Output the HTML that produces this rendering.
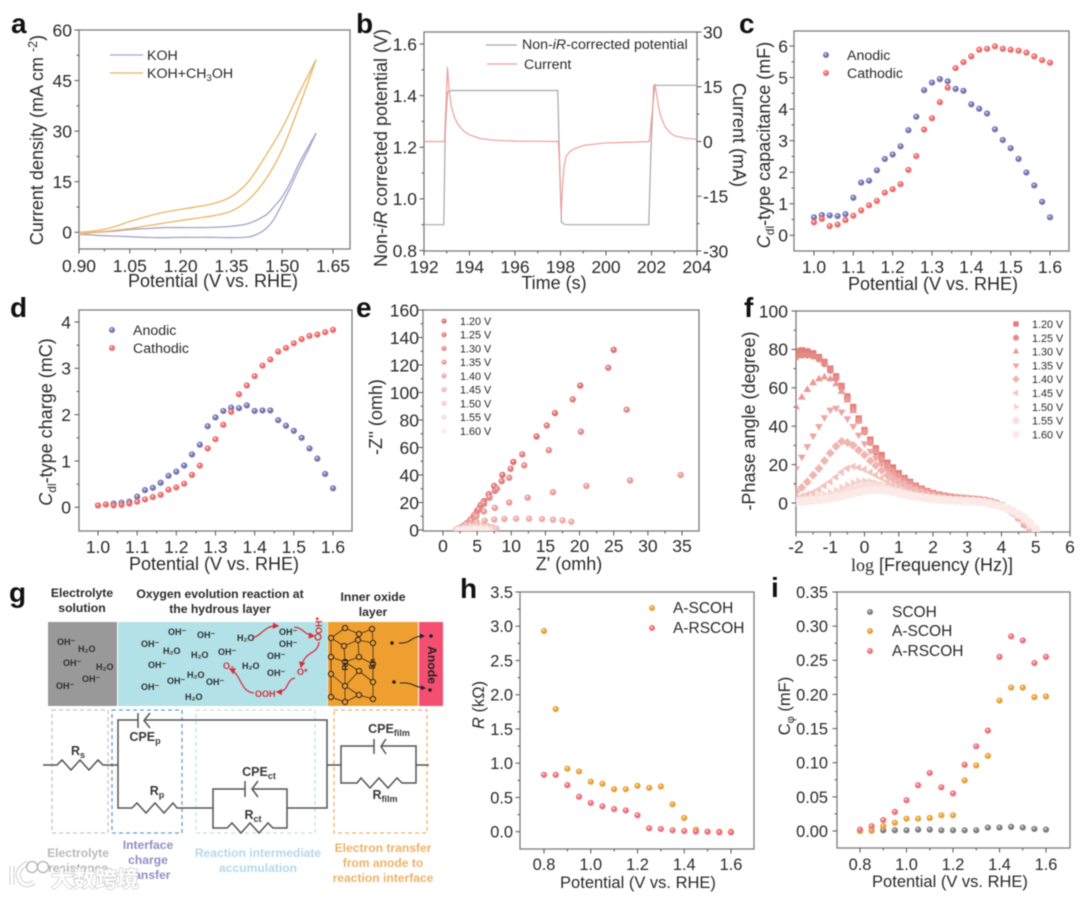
<!DOCTYPE html>
<html lang="en">
<head>
<meta charset="utf-8">
<title>Electrochemical characterization figure</title>
<style>
html,body{margin:0;padding:0;background:#fff;}
body{width:1080px;height:898px;overflow:hidden;}
svg{display:block;filter:blur(.5px);font-family:"Liberation Sans","Noto Sans CJK SC",sans-serif;}
.t{font-size:18px;fill:#2a2a2a;}
.ts{font-size:16.5px;fill:#2a2a2a;}
.l{font-size:14.2px;fill:#2a2a2a;}
.ls{font-size:15.5px;fill:#2a2a2a;}
.lt{font-size:10.8px;fill:#2a2a2a;}
.p{font-size:28px;font-weight:bold;fill:#111;}
.gt{font-size:12.2px;font-weight:bold;fill:#2b2b2b;text-anchor:middle;}
.m{font-size:9px;font-weight:bold;fill:#2f2f2f;}
.r{font-size:12.5px;font-weight:bold;fill:#3a3a3a;text-anchor:middle;}
.b{font-size:12.1px;font-weight:bold;text-anchor:middle;}
.w{fill:none;stroke:#555;stroke-width:1.5;}
.d{fill:none;stroke-width:1.3;stroke-dasharray:4 3;}
.red{fill:none;stroke:#d5303a;stroke-width:1.3;marker-end:url(#red-arrow);}
.blk{fill:none;stroke:#222;stroke-width:1;marker-end:url(#black-arrow);}
</style>
</head>
<body>
<svg id="fig" xmlns="http://www.w3.org/2000/svg" width="1080" height="898" viewBox="0 0 1080 898">
<defs id="defs">
<marker id="red-arrow" markerWidth="6" markerHeight="6" refX="4" refY="2.5" orient="auto"><path d="M0,0L5,2.5L0,5z" fill="#d5303a"/></marker>
<marker id="black-arrow" markerWidth="6" markerHeight="6" refX="4" refY="2.5" orient="auto"><path d="M0,0L5,2.5L0,5z" fill="#222"/></marker>
<clipPath id="clip-f"><rect x="796" y="311" width="274" height="221"/></clipPath>
<clipPath id="clip-e"><rect x="423" y="310" width="276" height="221"/></clipPath>
</defs>
<rect width="1080" height="898" fill="#fff"/>

<!-- panel letters -->
<text class="p" x="11" y="33">a</text>
<text class="p" x="356" y="33">b</text>
<text class="p" x="739" y="33">c</text>
<text class="p" x="10" y="317">d</text>
<text class="p" x="356" y="317">e</text>
<text class="p" x="744" y="317">f</text>
<text class="p" x="9" y="602">g</text>
<text class="p" x="460" y="598">h</text>
<text class="p" x="771" y="597">i</text>

<!-- axis titles -->
<text class="t" x="213" y="287" text-anchor="middle">Potential (V vs. RHE)</text>
<text class="t" transform="translate(43,140) rotate(-90)" text-anchor="middle">Current density (mA cm <tspan dy="-6" font-size="12.5">-2</tspan><tspan dy="6">)</tspan></text>
<text class="t" x="554" y="289" text-anchor="middle">Time (s)</text>
<text class="t" transform="translate(387,148) rotate(-90)" text-anchor="middle">Non-<tspan font-style="italic">iR</tspan> corrected potential (V)</text>
<text class="t" transform="translate(733,135) rotate(90)" text-anchor="middle">Current (mA)</text>
<text class="t" x="933" y="290" text-anchor="middle">Potential (V vs. RHE)</text>
<text class="t" transform="translate(770,145) rotate(-90)" text-anchor="middle"><tspan font-style="italic">C</tspan><tspan dy="4" font-size="12">dl</tspan><tspan dy="-4">-type capacitance (mF)</tspan></text>
<text class="t" x="214" y="570" text-anchor="middle">Potential (V vs. RHE)</text>
<text class="t" transform="translate(52,422) rotate(-90)" text-anchor="middle"><tspan font-style="italic">C</tspan><tspan dy="4" font-size="12">dl</tspan><tspan dy="-4">-type charge (mC)</tspan></text>
<text class="t" x="569" y="570" text-anchor="middle">Z' (omh)</text>
<text class="t" transform="translate(382,417) rotate(-90)" text-anchor="middle">-Z'' (omh)</text>
<text class="t" x="932" y="571" text-anchor="middle"><tspan font-family="Liberation Serif">log</tspan> [Frequency (Hz)]</text>
<text class="t" transform="translate(755,421) rotate(-90)" text-anchor="middle">-Phase angle (degree)</text>
<text class="ts" x="638" y="888" text-anchor="middle">Potential (V vs. RHE)</text>
<text class="ts" transform="translate(484,705) rotate(-90)" text-anchor="middle"><tspan font-style="italic">R</tspan> (kΩ)</text>
<text class="ts" x="950" y="887" text-anchor="middle">Potential (V vs. RHE)</text>
<text class="ts" transform="translate(790,706) rotate(-90)" text-anchor="middle">C<tspan dy="4" font-size="11">φ</tspan><tspan dy="-4"> (mF)</tspan></text>

<!-- legends -->
<g>
<line x1="110" x2="143" y1="55" y2="55" stroke="#a3a3cc" stroke-width="1.2"/>
<text class="l" x="147" y="60">KOH</text>
<line x1="110" x2="143" y1="73" y2="73" stroke="#eab566" stroke-width="1.2"/>
<text class="l" x="147" y="78">KOH+CH<tspan dy="3" font-size="9.5">3</tspan><tspan dy="-3">OH</tspan></text>
</g>
<g>
<line x1="486" x2="517" y1="45" y2="45" stroke="#a8a8a8" stroke-width="1.2"/>
<text class="l" x="522" y="49">Non-<tspan font-style="italic">iR</tspan>-corrected potential</text>
<line x1="487" x2="517" y1="64" y2="64" stroke="#ef9f9b" stroke-width="1.2"/>
<text class="l" x="524" y="69">Current</text>
</g>
<g>
<text class="l" x="847" y="60">Anodic</text>
<text class="l" x="847" y="78">Cathodic</text>
</g>
<g>
<text class="l" x="133" y="335">Anodic</text>
<text class="l" x="133" y="353">Cathodic</text>
</g>
<g>
<text class="ls" x="673" y="613">A-SCOH</text>
<text class="ls" x="673" y="633">A-RSCOH</text>
</g>
<g>
<text class="ls" x="892" y="617">SCOH</text>
<text class="ls" x="892" y="636">A-SCOH</text>
<text class="ls" x="892" y="656">A-RSCOH</text>
</g>

<!-- panel g schematic -->
<g>
<text class="gt" x="82" y="597">Electrolyte</text><text class="gt" x="82" y="612">solution</text>
<text class="gt" x="220" y="598">Oxygen evolution reaction at</text><text class="gt" x="220" y="613">the hydrous layer</text>
<text class="gt" x="373" y="601">Inner oxide</text><text class="gt" x="373" y="616">layer</text>
<rect x="48" y="622" width="69" height="84" fill="#999999"/>
<rect x="118" y="622" width="209.500" height="84" fill="#b2e2e8"/>
<rect x="328" y="622" width="90" height="84" fill="#ef9f30"/>
<rect x="419" y="622" width="24" height="84" fill="#f44f70"/>
<text x="431" y="665" font-size="12.2" font-weight="bold" fill="#222" text-anchor="middle" dominant-baseline="middle" transform="rotate(90 431 665)">Anode</text>
<g>
<text class="m" x="57" y="645">OH⁻</text><text class="m" x="78" y="652">H₂O</text><text class="m" x="63" y="666">OH⁻</text><text class="m" x="96" y="670">H₂O</text><text class="m" x="82" y="682">OH⁻</text><text class="m" x="56" y="689">OH⁻</text>
<text class="m" x="141" y="647">OH⁻</text><text class="m" x="168" y="635">OH⁻</text><text class="m" x="197" y="638">OH⁻</text><text class="m" x="163" y="654">H₂O</text><text class="m" x="191" y="658">H₂O</text><text class="m" x="218" y="655">OH⁻</text><text class="m" x="148" y="668">OH⁻</text><text class="m" x="187" y="678">H₂O</text><text class="m" x="167" y="684">OH⁻</text><text class="m" x="206" y="685">OH⁻</text><text class="m" x="141" y="690">OH⁻</text><text class="m" x="185" y="700">H₂O</text>
<text class="m" x="237" y="641">H₂O</text><text class="m" x="279" y="635">OH⁻</text><text class="m" x="279" y="647">OH⁻</text><text class="m" x="267" y="659">OH⁻</text><text class="m" x="242" y="669">H₂O</text><text class="m" x="267" y="676">OH⁻</text>
<text class="m" x="255" y="697" style="fill:#d5303a">OOH</text><text class="m" x="223" y="669" style="fill:#d5303a">O₂</text><text class="m" x="297" y="675" style="fill:#d5303a">O*</text>
<text class="m" transform="translate(322,634) rotate(-90)" style="fill:#d5303a">OH*</text>
</g>
<g>
<path class="red" d="M252,638C262,636 264,625 278,626"/>
<path class="red" d="M294,627C304,628 304,635 314,636"/>
<path class="red" d="M319,642C318,655 305,650 301,667"/>
<path class="red" d="M295,678C285,680 290,692 277,692"/>
<path class="red" d="M254,693C240,692 242,675 230,669"/>
<circle cx="318" cy="637" r="3" fill="none" stroke="#d5303a" stroke-width="1.3"/>
</g>
<g id="lattice"></g>
<text x="345" y="668" font-size="8.500" font-weight="bold" fill="#222" text-anchor="middle" transform="rotate(-90 345 665)">Ru</text>
<text x="372" y="667" font-size="8.500" font-weight="bold" fill="#222" text-anchor="middle" transform="rotate(-90 372 664)">Sn</text>
<g>
<circle cx="392" cy="643" r="1.800" fill="#222"/><circle cx="394" cy="682" r="1.800" fill="#222"/>
<circle cx="431" cy="636" r="1.800" fill="#222"/><circle cx="430" cy="690" r="1.800" fill="#222"/>
<path class="blk" d="M399,643C412,644 410,636 424,636"/>
<path class="blk" d="M400,683C414,682 412,687 425,688"/>
</g>
<g>
<rect class="d" x="52" y="710" width="56" height="123" stroke="#c6c6c6"/>
<rect class="d" x="112" y="710" width="70" height="123" stroke="#6b9dc9"/>
<rect class="d" x="196" y="710" width="119" height="123" stroke="#c6deef"/>
<rect class="d" x="334" y="710" width="93" height="123" stroke="#ebb56c"/>
<path class="w" d="M43,765H57L62,760L71,770L80,760L89,770L98,760L103,765H118"/>
<path class="w" d="M138,720H118V808H132L137,803L146,813L155,803L164,813L173,803L177,808H213"/>
<path class="w" d="M138,713V728M150,713L144,720.500L150,728M145,720H327V808H287"/>
<path class="w" d="M245,789H213V828H227L232,823L241,833L250,823L259,833L268,823L273,828H287V789H253M245,781V797M258,781L252,789L258,797"/>
<path class="w" d="M327,765H341V746H374M374,739V754M386,739L381,746.500L386,754M381,746H416V783H402L397,778L388,788L379,778L370,788L361,778L357,783H341V765M416,765H429"/>
<text class="r" x="78" y="755">R<tspan dy="3" font-size="9">s</tspan></text>
<text class="r" x="145" y="741">CPE<tspan dy="3" font-size="9">p</tspan></text>
<text class="r" x="157" y="795">R<tspan dy="3" font-size="9">p</tspan></text>
<text class="r" x="259" y="776">CPE<tspan dy="3" font-size="9">ct</tspan></text>
<text class="r" x="253" y="819">R<tspan dy="3" font-size="9">ct</tspan></text>
<text class="r" x="389" y="733">CPE<tspan dy="3" font-size="9">film</tspan></text>
<text class="r" x="385" y="799">R<tspan dy="3" font-size="9">film</tspan></text>
</g>
<g>
<g fill="#b9b9b9"><text class="b" x="78" y="857">Electrolyte</text><text class="b" x="78" y="872">resistance</text></g>
<g fill="#8f8fc6"><text class="b" x="148" y="849">Interface</text><text class="b" x="148" y="864">charge</text><text class="b" x="148" y="879">transfer</text></g>
<g fill="#b5d7ef"><text class="b" x="258" y="857">Reaction intermediate</text><text class="b" x="258" y="872">accumulation</text></g>
<g fill="#efb266"><text class="b" x="383" y="852">Electron transfer</text><text class="b" x="383" y="867">from anode to</text><text class="b" x="383" y="882">reaction interface</text></g>
</g>
</g>
<g>
<path d="M12,866V885M28,863C18,868 17,874 19,878C21,885 28,887 34,882" fill="none" stroke="#cfcfcf" stroke-width="5"/>
<path d="M12,866V885M28,863C18,868 17,874 19,878C21,885 28,887 34,882" fill="none" stroke="#fff" stroke-width="3"/>
<circle cx="32" cy="867" r="5.500" fill="none" stroke="#b5b5b5" stroke-width="1.300"/><circle cx="43" cy="867" r="5.500" fill="none" stroke="#b5b5b5" stroke-width="1.300"/>
<text x="51" y="887" font-size="22" font-family="Noto Sans CJK SC" font-weight="bold" fill="#fff" stroke="#cccccc" stroke-width="1.400" style="paint-order:stroke">大数跨境</text>
</g>
<g id="charts"></g>
</svg>
<script>
// ---------- Panel a data ----------
const aXTicks=[0.90,1.05,1.20,1.35,1.50,1.65];
const aXLabels=['0.90','1.05','1.20','1.35','1.50','1.65'];
const aYTicks=[0,15,30,45,60];
const aYLabels=['0','15','30','45','60'];
const aKohForwardV=[0.90,0.95,1.00,1.05,1.10,1.15,1.20,1.25,1.30,1.35,1.40,1.425,1.45,1.475,1.50,1.525,1.55,1.575,1.60];
const aKohForwardJ=[-0.6,-0.9,-1.1,-1.3,-1.5,-1.6,-1.5,-1.5,-1.5,-1.6,-1.4,-0.6,0.9,3.8,8.5,13.5,19,24,29.4];
const aKohReverseV=[0.90,0.95,1.00,1.05,1.10,1.15,1.20,1.25,1.30,1.35,1.40,1.45,1.475,1.50,1.525,1.55,1.575,1.60];
const aKohReverseJ=[-0.5,0,0.3,0.8,1.1,1.4,1.4,1.4,1.5,1.8,2.6,5,7.5,10.5,15,20.5,25,29.4];
const aMethV=[0.90,0.95,1.00,1.05,1.10,1.15,1.20,1.25,1.30,1.35,1.40,1.45,1.50,1.55,1.60];
const aMethUpperJ=[0,0.5,1.5,3.2,4.7,5.9,6.8,7.6,8.6,10.6,15,22.5,30.9,41.3,51.2];
const aMethLowerJ=[-0.6,0,0.5,1.1,1.9,2.7,3.5,4.2,5,6.3,9.6,15.5,24.5,37.3,51.2];

// ---------- Panel b data ----------
const bXTicks=[192,194,196,198,200,202,204];
const bXLabels=['192','194','196','198','200','202','204'];
const bYTicks=[0.8,1.0,1.2,1.4,1.6];
const bYLabels=['0.8','1.0','1.2','1.4','1.6'];
const bRTicks=[-30,-15,0,15,30];
const bRLabels=['-30','-15','0','15','30'];
const bPotT=[192,192.87,192.93,193.03,193.2,197.88,197.94,198.04,198.2,201.88,201.98,202.1,204];
const bPotV=[0.90,0.90,1.25,1.413,1.42,1.42,1.2,0.91,0.90,0.90,1.2,1.44,1.44];
const bCurT=[192,192.9,192.98,193.03,193.1,193.2,193.35,193.5,193.75,194,194.5,195,196,197,197.9,197.95,198.03,198.08,198.15,198.25,198.4,198.6,199,199.5,200,201,201.9,202,202.15,202.3,202.4,202.6,202.8,203,203.5,204];
const bCurI=[0,0,12,20.3,14.5,9.5,6.5,4.6,2.8,1.8,0.8,0.4,0.1,0.05,0,-5,-20,-13,-7,-4,-2.8,-2,-1.1,-0.7,-0.4,-0.2,0,6,15.7,10,7,4,2.5,1.6,0.9,0.6];

// ---------- Panel c data ----------
const potential31=[1.00,1.02,1.04,1.06,1.08,1.10,1.12,1.14,1.16,1.18,1.20,1.22,1.24,1.26,1.28,1.30,1.32,1.34,1.36,1.38,1.40,1.42,1.44,1.46,1.48,1.50,1.52,1.54,1.56,1.58,1.60];
const cXTicks=[1.0,1.1,1.2,1.3,1.4,1.5,1.6];
const cXLabels=['1.0','1.1','1.2','1.3','1.4','1.5','1.6'];
const cYTicks=[0,1,2,3,4,5,6];
const cYLabels=['0','1','2','3','4','5','6'];
const cAnodic=[0.57,0.64,0.63,0.61,0.67,1.19,1.67,1.73,2.06,2.42,2.56,2.82,3.33,3.76,4.60,4.84,4.95,4.88,4.64,4.58,4.15,4.01,3.86,3.36,3.02,2.76,2.42,1.99,1.58,1.06,0.57];
const cCathodic=[0.41,0.52,0.29,0.34,0.48,0.62,0.79,0.95,1.09,1.35,1.46,1.62,2.07,2.51,3.35,3.71,4.22,4.68,5.30,5.49,5.67,5.88,5.91,5.99,5.91,5.88,5.85,5.79,5.67,5.55,5.47];

// ---------- Panel d data ----------
const dYTicks=[0,1,2,3,4];
const dYLabels=['0','1','2','3','4'];
const dAnodic=[0.04,0.06,0.08,0.10,0.12,0.23,0.37,0.42,0.53,0.68,0.77,0.90,1.14,1.35,1.75,1.94,2.08,2.15,2.14,2.20,2.08,2.09,2.09,1.88,1.76,1.65,1.50,1.27,1.05,0.72,0.41];
const dCathodic=[0.04,0.06,0.04,0.05,0.08,0.12,0.17,0.22,0.27,0.38,0.43,0.51,0.70,0.90,1.27,1.47,1.78,2.06,2.44,2.63,2.83,3.06,3.19,3.36,3.44,3.54,3.63,3.70,3.73,3.78,3.83];

// ---------- Panel e data ----------
const eXTicks=[0,5,10,15,20,25,30,35];
const eXLabels=['0','5','10','15','20','25','30','35'];
const eYTicks=[0,20,40,60,80,100,120,140,160];
const eYLabels=['0','20','40','60','80','100','120','140','160'];
const voltageLabels=['1.20 V','1.25 V','1.30 V','1.35 V','1.40 V','1.45 V','1.50 V','1.55 V','1.60 V'];
const eZReal=[
 [25,20.1,16.4,13.7,10.3,8.7,7.5,6.7,6,5.5,5,4.5,4,3.5,3,2.5,2],
 [24.2,19,15.2,11.6,9.9,8.6,7.6,6.8,6,5.4,4.9,4.4,3.9,3.3,2.7,2.1],
 [26.9,20.2,15.5,11.9,9.7,7.9,6.8,5.9,5.2,4.6,4,3.4,2.8,2.1],
 [34.8,27.4,21,16.1,12.4,9.7,7.6,6,4.9,4.1,3.4,2.7,2],
 [18.8,17.5,16.1,14.5,12.6,10.7,9,7.5,6.1,4.9,3.9,3,2.2],
 [7.8,7.2,6.5,5.7,4.9,4,3.2,2.5,1.9],
 [7.3,6.7,5.9,5,4.1,3.3,2.6,1.9],
 [7,6.2,5.3,4.4,3.6,2.8,2.1],
 [6.5,5.6,4.7,3.8,3,2.2]
];
const eZImag=[
 [131,105,85,68,49.5,40,32,26,21,18,14,10,7,5,3,1.5,0.5],
 [118,95,76,55,44.5,35.5,28.5,23.5,19,15,12,9,6,3.5,1.5,0.5],
 [87.5,71.5,58,47,38,30,24,19.5,15,11,7.5,4.5,2.3,0.6],
 [40,36,32,27.5,23.5,20,16,13.5,10,7,4.5,2.2,0.5],
 [6,7,7.5,8,8.2,8.3,8,7.6,6.8,5.8,4.2,2.6,1],
 [1,2,2.8,3.3,3.5,3.2,2.5,1.3,0.4],
 [0.5,1.2,1.8,2.2,2.2,1.7,1,0.3],
 [0.3,1,1.4,1.4,1.1,0.7,0.2],
 [0.3,0.7,0.9,0.8,0.5,0.2]
];

// ---------- Panel f data ----------
const fXTicks=[-2,-1,0,1,2,3,4,5,6];
const fXLabels=['-2','-1','0','1','2','3','4','5','6'];
const fYTicks=[0,20,40,60,80,100];
const fYLabels=['0','20','40','60','80','100'];
const fLogFreq=[-2,-1.83,-1.67,-1.5,-1.33,-1.17,-1,-0.83,-0.67,-0.5,-0.33,-0.17,0,0.17,0.33,0.5,0.67,0.83,1,1.17,1.33,1.5,1.67,1.83,2,2.17,2.33,2.5,2.67,2.83,3,3.17,3.33,3.5,3.67,3.83,4,4.17,4.33,4.5,4.67,4.83,5];
const fPhase120=[79,79.5,79,78,76,73.5,70,66,61,55.5,50,44,38,33,28.5,25,21,18.5,15.5,13,11,9,7.5,6.2,5.2,4.4,3.8,3.3,2.9,2.6,2.4,2.1,1.9,1.5,0.9,0,-1.2,-2.8,-4.8,-7.6,-11,-16,-22];
const fPhase125=[76,77,77,76.5,75,72.5,69,65,60,54.5,49,43,37,31.5,26.5,22.5,19,16.5,14,12,10,8.4,7,5.8,4.9,4.2,3.6,3.2,2.8,2.5,2.3,2,1.8,1.4,0.8,-0.1,-1.3,-2.9,-4.9,-7.7,-11.1,-16,-22];
const fPhase130=[50,55,59,62.5,64.5,65.5,64.5,62,58,53.5,48,42.5,37,31.5,27,23,19.5,16.5,14,12,10,8.4,7,5.8,4.8,4.1,3.5,3.1,2.8,2.5,2.2,2,1.7,1.3,0.7,-0.2,-1.4,-3,-5,-7.8,-11.2,-16,-22];
const fPhase135=[18,24,29.5,35,40,44.5,48.5,49.5,47.5,44,40,35.5,31,27,23.5,20,17,14.5,12.2,10.5,8.8,7.4,6.2,5.2,4.4,3.7,3.2,2.8,2.5,2.3,2,1.8,1.5,1.1,0.5,-0.4,-1.6,-3.2,-5.2,-8,-11.5,-16.5,-23];
const fPhase140=[6,8,11,14.5,18,22,26,29.5,32,31.5,30,27.5,25,22,19.5,17,14.5,12.5,10.7,9.2,7.8,6.6,5.5,4.7,4,3.4,2.9,2.5,2.3,2.1,1.9,1.7,1.4,1,0.4,-0.5,-1.6,-3.2,-5,-7.5,-10.5,-14.5,-20];
const fPhase145=[3,3.5,4.5,5.5,7,9,11,13.5,16,18,19,18.5,17.5,16,14.5,13,11.2,9.8,8.5,7.2,6.2,5.3,4.5,3.8,3.3,2.8,2.4,2.1,1.9,1.8,1.6,1.4,1.1,0.7,0.1,-0.8,-1.8,-3.2,-4.8,-7,-9.6,-13,-18];
const fPhase150=[2,2.2,2.5,3,3.6,4.4,5.4,6.6,8,9.3,10.5,11.3,11.5,11.2,10.4,9.5,8.5,7.5,6.5,5.7,4.9,4.2,3.6,3.1,2.7,2.3,2,1.8,1.6,1.5,1.3,1.2,1,0.6,0,-0.8,-1.8,-3,-4.6,-6.6,-9,-12,-16];
const fPhase155=[1,1.2,1.5,1.8,2.2,2.8,3.5,4.3,5.2,6.2,7.2,8.1,8.8,9,8.7,8.1,7.3,6.5,5.7,5,4.3,3.7,3.2,2.8,2.4,2,1.8,1.6,1.4,1.3,1.2,1,0.8,0.5,-0.1,-0.9,-1.8,-3,-4.4,-6.2,-8.5,-11.2,-15];
const fPhase160=[0.5,0.7,0.9,1.2,1.5,1.9,2.4,3,3.6,4.3,5,5.7,6.3,6.8,7,6.8,6.3,5.7,5,4.4,3.8,3.3,2.9,2.5,2.1,1.8,1.6,1.4,1.2,1.1,1,0.9,0.7,0.4,-0.2,-1,-1.9,-3,-4.2,-5.8,-7.8,-10.4,-13.5];

// ---------- Panels h and i data ----------
const potential17=[0.80,0.85,0.90,0.95,1.00,1.05,1.10,1.15,1.20,1.25,1.30,1.35,1.40,1.45,1.50,1.55,1.60];
const hiXTicks=[0.8,1.0,1.2,1.4,1.6];
const hiXLabels=['0.8','1.0','1.2','1.4','1.6'];
const hYTicks=[0,0.5,1,1.5,2,2.5,3,3.5];
const hYLabels=['0.0','0.5','1.0','1.5','2.0','2.5','3.0','3.5'];
const hSCOH=[2.93,1.79,0.92,0.88,0.73,0.70,0.62,0.62,0.67,0.64,0.66,0.40,0.20,0.03,0,0,0];
const hRSCOH=[0.83,0.83,0.68,0.51,0.42,0.37,0.33,0.31,0.24,0.05,0.04,0.02,0.01,0,0,-0.01,-0.01];
const iYTicks=[0,0.05,0.10,0.15,0.20,0.25,0.30,0.35];
const iYLabels=['0.00','0.05','0.10','0.15','0.20','0.25','0.30','0.35'];
const iPristine=[0.001,0.0005,0.001,0.001,0.001,0.002,0.002,0.001,0.001,0.001,0.001,0.005,0.005,0.006,0.005,0.003,0.002];
const iSCOH=[0,0.001,0.007,0.012,0.018,0.018,0.019,0.023,0.023,0.074,0.096,0.110,0.191,0.210,0.210,0.196,0.197];
const iRSCOH=[0.002,0.007,0.016,0.028,0.045,0.067,0.085,0.064,0.055,0.097,0.124,0.147,0.255,0.285,0.279,0.246,0.255];

// ---------- Schematic lattice ----------
const latticeNodes=[[345,628],[372,629],[359,634],[331,638],[358,640],[344,646],[373,643],[331,657],[359,657],[345,662],[373,664],[331,674],[359,671],[373,682],[345,686],[331,697],[359,695],[373,699],[345,702]];
const latticeEdges=[[3,0],[0,2],[2,1],[1,6],[6,4],[4,5],[5,3],[3,7],[5,9],[4,8],[6,10],[7,9],[8,9],[8,10],[9,12],[7,11],[9,14],[10,13],[12,13],[11,14],[12,14],[14,16],[13,17],[11,15],[15,18],[18,16],[16,17],[14,18]];

// ---------- Helpers ----------
const NS='http://www.w3.org/2000/svg';
const root=document.getElementById('charts');
const defs=document.getElementById('defs');
function add(parent,tag,attrs,text){
  const n=document.createElementNS(NS,tag);
  for(const k in attrs){n.setAttribute(k,attrs[k]);}
  if(text!==undefined){n.textContent=text;}
  parent.appendChild(n);
  return n;
}
function linear(d0,d1,r0,r1){return v=>r0+(v-d0)*(r1-r0)/(d1-d0);}
let gradCount=0;
function ball(color){
  const id='ball-'+(gradCount++);
  const g=add(defs,'radialGradient',{id:id,cx:'0.5',cy:'0.5',r:'0.6',fx:'0.38',fy:'0.32'});
  add(g,'stop',{offset:'0','stop-color':'#fff','stop-opacity':'0.7'});
  add(g,'stop',{offset:'0.4','stop-color':color});
  add(g,'stop',{offset:'1','stop-color':color});
  return 'url(#'+id+')';
}
function newGroup(name){
  const g=add(root,'g',{});
  
  
  return g;
}
function drawAxes(name,box,x,y,cfg){
  const g=newGroup(name+'-axes');
  const fr=add(g,'rect',{x:box.x0,y:box.y0,width:box.x1-box.x0,height:box.y1-box.y0,fill:'none',stroke:'#7c7c7c','stroke-width':1.3});
  
  
  const tickStyle={stroke:'#555','stroke-width':1};
  cfg.xTicks.forEach((v,i)=>{
    const px=x(v);
    const t=add(g,'line',Object.assign({x1:px,x2:px,y1:box.y1,y2:box.y1+4.5},tickStyle));
    
    
    const lb=add(g,'text',{x:px,y:cfg.xBase,'text-anchor':'middle','font-size':cfg.size,fill:'#2a2a2a'},cfg.xLabels[i]);
    
    
    if(i<cfg.xTicks.length-1){
      const mx=(px+x(cfg.xTicks[i+1]))/2;
      add(g,'line',Object.assign({x1:mx,x2:mx,y1:box.y1,y2:box.y1+2.5},tickStyle));
    }
  });
  cfg.yTicks.forEach((v,i)=>{
    const py=y(v);
    const t=add(g,'line',Object.assign({x1:box.x0-4.5,x2:box.x0,y1:py,y2:py},tickStyle));
    
    
    const lb=add(g,'text',{x:cfg.yRight,y:py+cfg.size*0.36,'text-anchor':'end','font-size':cfg.size,fill:'#2a2a2a'},cfg.yLabels[i]);
    
    
    if(i<cfg.yTicks.length-1){
      const my=(py+y(cfg.yTicks[i+1]))/2;
      add(g,'line',Object.assign({x1:box.x0-2.5,x2:box.x0,y1:my,y2:my},tickStyle));
    }
  });
  return g;
}
function smoothPath(px,py){
  let d='M'+px[0]+','+py[0];
  for(let i=0;i<px.length-1;i++){
    const x0=px[Math.max(i-1,0)],y0=py[Math.max(i-1,0)];
    const x1=px[i],y1=py[i],x2=px[i+1],y2=py[i+1];
    const x3=px[Math.min(i+2,px.length-1)],y3=py[Math.min(i+2,py.length-1)];
    d+='C'+(x1+(x2-x0)/6)+','+(y1+(y2-y0)/6)+' '+(x2-(x3-x1)/6)+','+(y2-(y3-y1)/6)+' '+x2+','+y2;
  }
  return d;
}
function drawCurve(g,name,xs,ys,x,y,color){
  const p=add(g,'path',{d:smoothPath(xs.map(x),ys.map(y)),fill:'none',stroke:color,'stroke-width':1.3,'stroke-linejoin':'round'});
  
  
}
function drawLine(g,name,xs,ys,x,y,color){
  const pts=xs.map((v,i)=>x(v)+','+y(ys[i])).join(' ');
  const p=add(g,'polyline',{points:pts,fill:'none',stroke:color,'stroke-width':1.2,'stroke-linejoin':'round'});
  
  
}
function drawDots(g,name,xs,ys,x,y,fill,r){
  xs.forEach((v,i)=>{
    const c=add(g,'circle',{cx:x(v),cy:y(ys[i]),r:r,fill:fill});
    
    
  });
}
function legendDot(g,name,cx,cy,fill,r){
  const c=add(g,'circle',{cx:cx,cy:cy,r:r,fill:fill});
  
  
}

const blueBall=ball('#7474b4');
const redBall=ball('#ef6a6a');
const orangeBall=ball('#e9a035');
const pinkBall=ball('#ee6f7a');
const grayBall=ball('#7d7d7d');
const seriesColors=['#dc7270','#e07e7b','#e48b88','#e99b97','#edaaa6','#f1bab5','#f5ccc7','#f8dcd8','#fbeae7'];
const seriesBalls=seriesColors.map(ball);

// ---------- Panel a ----------
(function(){
  const box={x0:79,x1:350,y0:30,y1:249};
  const x=linear(0.90,1.65,79,333),y=linear(0,60,232.3,30);
  drawAxes('a',box,x,y,{xTicks:aXTicks,xLabels:aXLabels,yTicks:aYTicks,yLabels:aYLabels,size:17.5,xBase:272,yRight:72});
  const g=newGroup('a-series');
  drawCurve(g,'koh-forward-curve',aKohForwardV,aKohForwardJ,x,y,'#a3a3cc');
  drawCurve(g,'koh-reverse-curve',aKohReverseV,aKohReverseJ,x,y,'#a3a3cc');
  drawCurve(g,'koh-methanol-upper-curve',aMethV,aMethUpperJ,x,y,'#eab566');
  drawCurve(g,'koh-methanol-lower-curve',aMethV,aMethLowerJ,x,y,'#eab566');
})();

// ---------- Panel b ----------
(function(){
  const box={x0:424,x1:697,y0:32,y1:251};
  const x=linear(192,204,424,697),y=linear(0.8,1.6,250.5,44),yr=linear(-30,30,251,32);
  const g0=drawAxes('b',box,x,y,{xTicks:bXTicks,xLabels:bXLabels,yTicks:bYTicks,yLabels:bYLabels,size:17.5,xBase:273,yRight:417});
  bRTicks.forEach((v,i)=>{
    const py=yr(v);
    const t=add(g0,'line',{x1:697,x2:701.5,y1:py,y2:py,stroke:'#555','stroke-width':1});
    
    
    const lb=add(g0,'text',{x:703,y:py+6.3,'font-size':17.5,fill:'#2a2a2a'},bRLabels[i]);
    
    
    if(i<bRTicks.length-1){
      const my=(py+yr(bRTicks[i+1]))/2;
      add(g0,'line',{x1:697,x2:699.5,y1:my,y2:my,stroke:'#555','stroke-width':1});
    }
  });
  const g=newGroup('b-series');
  drawLine(g,'potential-line',bPotT,bPotV,x,y,'#a8a8a8');
  drawLine(g,'current-line',bCurT,bCurI,x,yr,'#ef9f9b');
})();

// ---------- Panel c ----------
(function(){
  const box={x0:794,x1:1069,y0:31,y1:251};
  const x=linear(1.0,1.6,814,1050),y=linear(0,6,235.3,46);
  drawAxes('c',box,x,y,{xTicks:cXTicks,xLabels:cXLabels,yTicks:cYTicks,yLabels:cYLabels,size:17.5,xBase:273,yRight:788});
  const g=newGroup('c-series');
  drawDots(g,'c-anodic-point',potential31,cAnodic,x,y,blueBall,3.1);
  drawDots(g,'c-cathodic-point',potential31,cCathodic,x,y,redBall,3.1);
  legendDot(g,'c-legend-anodic-marker',826,55,blueBall,3);
  legendDot(g,'c-legend-cathodic-marker',826,73,redBall,3);
})();

// ---------- Panel d ----------
(function(){
  const box={x0:79,x1:352,y0:310,y1:531};
  const x=linear(1.0,1.6,98,333),y=linear(0,4,507.3,322);
  drawAxes('d',box,x,y,{xTicks:cXTicks,xLabels:cXLabels,yTicks:dYTicks,yLabels:dYLabels,size:17.5,xBase:553,yRight:71});
  const g=newGroup('d-series');
  drawDots(g,'d-anodic-point',potential31,dAnodic,x,y,blueBall,3.1);
  drawDots(g,'d-cathodic-point',potential31,dCathodic,x,y,redBall,3.1);
  legendDot(g,'d-legend-anodic-marker',112,330,blueBall,3);
  legendDot(g,'d-legend-cathodic-marker',112,348,redBall,3);
})();

// ---------- Panel e ----------
(function(){
  const box={x0:423,x1:699,y0:310,y1:531};
  const x=linear(0,35,443,682),y=linear(0,160,530,310);
  drawAxes('e',box,x,y,{xTicks:eXTicks,xLabels:eXLabels,yTicks:eYTicks,yLabels:eYLabels,size:17.5,xBase:552,yRight:419});
  const g=newGroup('e-series');
  g.setAttribute('clip-path','url(#clip-e)');
  for(let s=0;s<eZReal.length;s++){
    drawDots(g,'e-point-'+voltageLabels[s].replace(' V','v'),eZReal[s],eZImag[s],x,y,seriesBalls[s],3.2);
  }
  const lg=newGroup('e-legend');
  voltageLabels.forEach((lab,i)=>{
    const py=321+i*13.72;
    legendDot(lg,'e-legend-marker',444,py,seriesBalls[i],2.6);
    const t=add(lg,'text',{x:460,y:py+4,class:'lt'},lab);
    
    
  });
})();

// ---------- Panel f ----------
function shapePoints(kind,cx,cy,r){
  const poly=(n,rot)=>{
    const out=[];
    for(let k=0;k<n;k++){
      const a=rot+k*2*Math.PI/n;
      out.push((cx+r*Math.cos(a)).toFixed(2)+','+(cy+r*Math.sin(a)).toFixed(2));
    }
    return out.join(' ');
  };
  if(kind==='square'){return poly(4,Math.PI/4);}
  if(kind==='up'){return poly(3,-Math.PI/2);}
  if(kind==='down'){return poly(3,Math.PI/2);}
  if(kind==='diamond'){return poly(4,0);}
  if(kind==='left'){return poly(3,Math.PI);}
  if(kind==='right'){return poly(3,0);}
  if(kind==='hex'){return poly(6,0);}
  return poly(8,0);
}
const fShapes=['square','circle','up','down','diamond','left','right','hex','star'];
(function(){
  const box={x0:796,x1:1070,y0:311,y1:532};
  const x=linear(-2,6,796,1070),y=linear(0,100,503,311);
  drawAxes('f',box,x,y,{xTicks:fXTicks,xLabels:fXLabels,yTicks:fYTicks,yLabels:fYLabels,size:17.5,xBase:553,yRight:788});
  const series=[fPhase120,fPhase125,fPhase130,fPhase135,fPhase140,fPhase145,fPhase150,fPhase155,fPhase160];
  const g=newGroup('f-series');
  g.setAttribute('clip-path','url(#clip-f)');
  const colors=['#e27f7c','#e68a86','#ea9a95','#eda7a3','#f0b5b0','#f3c3be','#f6d1cc','#f9dfdb','#fbeae7'];
  series.forEach((vals,s)=>{
    vals.forEach((v,i)=>{
      const cx=x(fLogFreq[i]),cy=y(v);
      let m;
      if(fShapes[s]==='circle'){m=add(g,'circle',{cx:cx,cy:cy,r:3.5,fill:colors[s]});}
      else{m=add(g,'polygon',{points:shapePoints(fShapes[s],cx,cy,4.5),fill:colors[s]});}
      
      
    });
  });
  const lg=newGroup('f-legend');
  voltageLabels.forEach((lab,i)=>{
    const py=324+i*13.8;
    let m;
    if(fShapes[i]==='circle'){m=add(lg,'circle',{cx:1016,cy:py,r:3,fill:colors[i]});}
    else{m=add(lg,'polygon',{points:shapePoints(fShapes[i],1016,py,3.8),fill:colors[i]});}
    
    
    const t=add(lg,'text',{x:1032,y:py+4,class:'lt'},lab);
    
    
  });
})();

// ---------- Panel h ----------
(function(){
  const box={x0:520,x1:754,y0:592,y1:849};
  const x=linear(0.8,1.6,544,731),y=linear(0,3.5,831.7,592);
  drawAxes('h',box,x,y,{xTicks:hiXTicks,xLabels:hiXLabels,yTicks:hYTicks,yLabels:hYLabels,size:16.4,xBase:870,yRight:513});
  const g=newGroup('h-series');
  drawDots(g,'h-a-scoh-point',potential17,hSCOH,x,y,orangeBall,3.1);
  drawDots(g,'h-a-rscoh-point',potential17,hRSCOH,x,y,pinkBall,3.1);
  legendDot(g,'h-legend-a-scoh-marker',652,608,orangeBall,3);
  legendDot(g,'h-legend-a-rscoh-marker',652,628,pinkBall,3);
})();

// ---------- Panel i ----------
(function(){
  const box={x0:837,x1:1070,y0:592,y1:848};
  const x=linear(0.8,1.6,860,1046),y=linear(0,0.35,831,592);
  drawAxes('i',box,x,y,{xTicks:hiXTicks,xLabels:hiXLabels,yTicks:iYTicks,yLabels:iYLabels,size:16.4,xBase:870,yRight:828});
  const g=newGroup('i-series');
  drawDots(g,'i-scoh-point',potential17,iPristine,x,y,grayBall,3.1);
  drawDots(g,'i-a-scoh-point',potential17,iSCOH,x,y,orangeBall,3.1);
  drawDots(g,'i-a-rscoh-point',potential17,iRSCOH,x,y,pinkBall,3.1);
  legendDot(g,'i-legend-scoh-marker',870,612,grayBall,3);
  legendDot(g,'i-legend-a-scoh-marker',870,631,orangeBall,3);
  legendDot(g,'i-legend-a-rscoh-marker',870,651,pinkBall,3);
})();

// ---------- Lattice ----------
(function(){
  const lat=document.getElementById('lattice');
  latticeEdges.forEach(e=>{
    const a=latticeNodes[e[0]],b=latticeNodes[e[1]];
    add(lat,'line',{x1:a[0],y1:a[1],x2:b[0],y2:b[1],stroke:'#3a2a10','stroke-width':0.8});
  });
  latticeNodes.forEach(n=>{
    add(lat,'circle',{cx:n[0],cy:n[1],r:2.6,fill:'#ef9f30',stroke:'#222','stroke-width':1});
  });
})();
</script>
</body>
</html>
